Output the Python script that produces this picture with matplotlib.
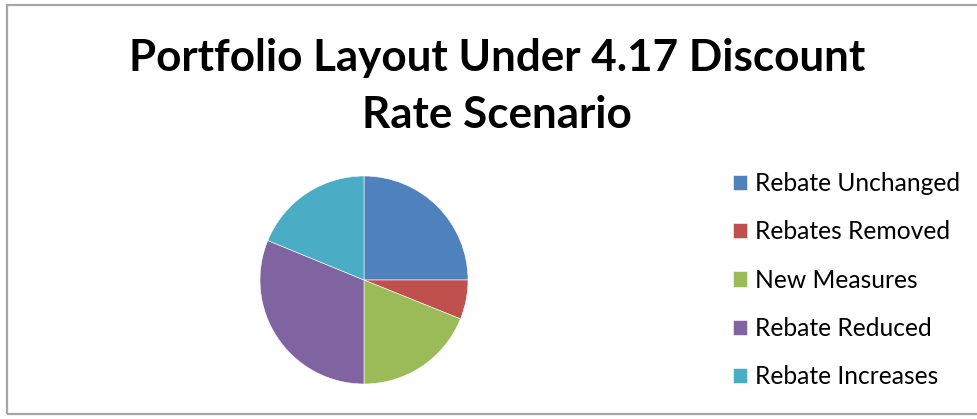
import matplotlib.pyplot as plt
from matplotlib.patches import Rectangle

# portfolio share per category (%)
labels = ["Rebate Unchanged", "Rebates Removed", "New Measures",
          "Rebate Reduced", "Rebate Increases"]
shares = [25.0, 6.1, 18.9, 31.2, 18.8]
colors = ["#4F81BD", "#C0504D", "#9BBB59", "#8064A2", "#4BACC6"]

title = "Portfolio Layout Under 4.17 Discount\nRate Scenario"

W, H = 977, 419
fig = plt.figure(figsize=(W / 100, H / 100), dpi=100)
fig.patch.set_facecolor("white")

# chart area frame (left, top and bottom edges visible)
fig.add_artist(Rectangle((6.5 / W, (H - 413.5) / H), 1.0, (413.5 - 5.5) / H,
                         transform=fig.transFigure, fill=False,
                         edgecolor="#a6a6a6", linewidth=1.6))

fig.text(497 / W, 1 - 38 / H, title, ha="center", va="top",
         fontsize=31.7, fontweight="bold", family="Lato", linespacing=1.5)

# pie area: center (364, 280) px, radius 104 px
cx, cy, r = 364, 280, 104
ax = fig.add_axes([(cx - r) / W, (H - cy - r) / H, 2 * r / W, 2 * r / H])
wedges, _ = ax.pie(shares, colors=colors, startangle=90, counterclock=False,
                   radius=1.0, wedgeprops=dict(edgecolor="white", linewidth=0.4))
ax.set_xlim(-1, 1)
ax.set_ylim(-1, 1)
ax.set_aspect("auto")
ax.axis("off")

fig.legend(wedges, labels, loc="upper left",
           bbox_to_anchor=(733 / W, 1 - 172 / H), frameon=False,
           prop=dict(family="Lato", size=17.7), borderpad=0, borderaxespad=0,
           handlelength=0.57, handleheight=0.57, handletextpad=0.33,
           labelspacing=1.03)

fig.savefig("out.png", dpi=100)
